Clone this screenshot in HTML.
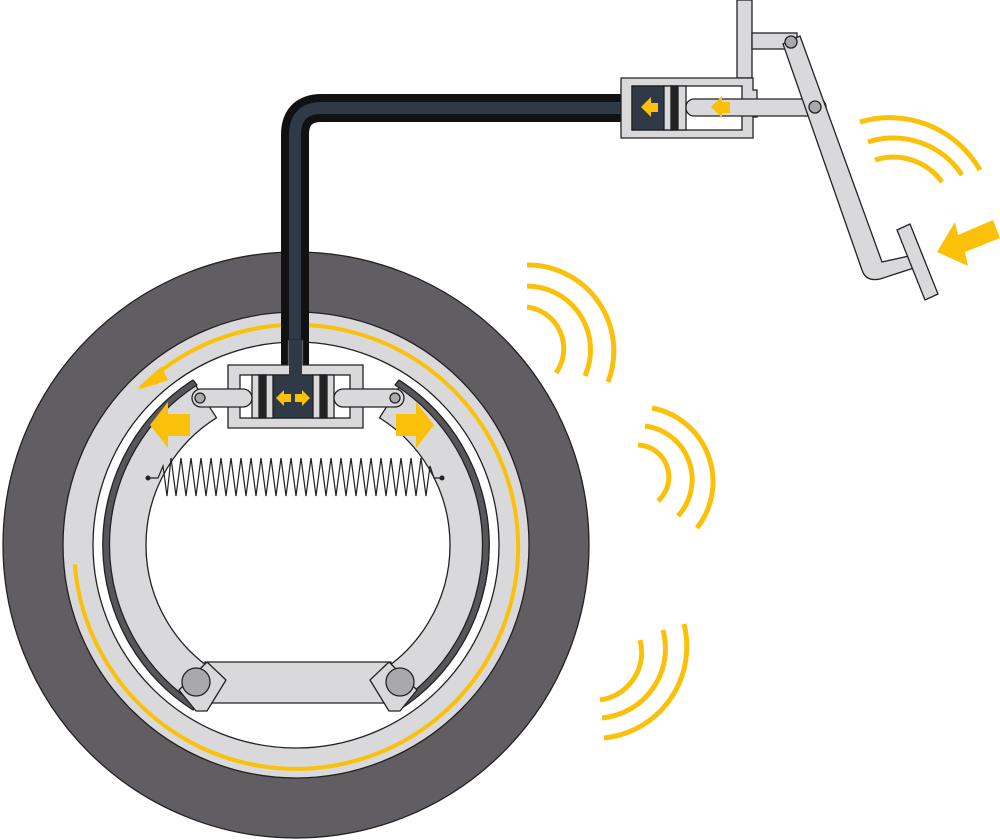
<!DOCTYPE html>
<html><head><meta charset="utf-8"><style>html,body{margin:0;padding:0;background:#fff}svg{display:block}</style></head>
<body>
<svg width="1000" height="840" viewBox="0 0 1000 840" xmlns="http://www.w3.org/2000/svg">
<g stroke="#222" stroke-width="1.3">
<circle cx="296" cy="545" r="293" fill="#605e62"/>
<circle cx="296" cy="545" r="233" fill="#d9d8da"/>
<circle cx="296" cy="545" r="203" fill="#fff"/>
</g>
<path d="M74.8,564.3 A222,222 0 1 0 152,378" fill="none" stroke="#fbc10a" stroke-width="4"/>
<polygon points="137,388 162,366 158,384" fill="#fbc10a"/>
<polygon points="138,390 163,370 168,380" fill="#fbc10a"/>
<g stroke="#222" stroke-width="1.3" stroke-linejoin="round">
<path d="M195.3,706.1 A190,190 0 0 1 195.3,384.9 L216.5,417.8 A150,150 0 0 0 216.5,672.2 Z" fill="#d9d8da"/>
<path d="M193,710 A196,196 0 0 1 193,380 L197,385 A190,190 0 0 0 197,705 Z" fill="#58565a"/>
<path d="M400.7,706.1 A190,190 0 0 0 400.7,384.9 L379.5,417.8 A150,150 0 0 1 379.5,672.2 Z" fill="#d9d8da"/>
<path d="M399,710 A196,196 0 0 0 399,380 L395,385 A190,190 0 0 1 395,705 Z" fill="#58565a"/>
<rect x="205" y="662" width="186" height="41" fill="#d9d8da"/>
<polygon points="179,690 207,662 226,680 207,711 196,711" fill="#d9d8da"/>
<polygon points="417,690 389,662 370,680 389,711 400,711" fill="#d9d8da"/>
<circle cx="196" cy="682" r="14" fill="#a9a8aa"/>
<circle cx="400" cy="682" r="14" fill="#a9a8aa"/>
</g>
<polyline fill="none" stroke="#222" stroke-width="1.2" points="148,478 158,478 163,466 167,496 171,458 176,496 181,458 186,496 191,458 196,496 201,458 206,496 211,458 216,496 221,458 226,496 231,458 236,496 241,458 246,496 251,458 256,496 261,458 266,496 271,458 276,496 281,458 286,496 291,458 296,496 301,458 306,496 311,458 316,496 321,458 326,496 331,458 336,496 341,458 346,496 351,458 356,496 361,458 366,496 371,458 376,496 381,458 386,496 391,458 396,496 401,458 406,496 411,458 416,496 421,458 426,496 430,466 434,478 442,478"/>
<circle cx="148" cy="478" r="2.5" fill="#222"/><circle cx="442" cy="478" r="2.5" fill="#222"/>
<path d="M295,365 V135 Q295,108 322,108 H625" fill="none" stroke="#111" stroke-width="28"/>
<path d="M295,365 V135 Q295,108 322,108 H625" fill="none" stroke="#2f3a46" stroke-width="12"/>
<g stroke="#222" stroke-width="1.3">
<path d="M228,365 H288 V340 H303 V365 H363 V428 H228 Z" fill="#d9d8da"/>
<rect x="240" y="375" width="110" height="43" fill="#fff"/>
<rect x="273" y="375" width="40" height="43" fill="#2f3a46"/>
<rect x="252" y="375" width="21" height="43" fill="#d9d8da"/>
<rect x="259" y="375" width="7" height="43" fill="#222"/>
<rect x="313" y="375" width="21" height="43" fill="#d9d8da"/>
<rect x="320" y="375" width="7" height="43" fill="#222"/>
<rect x="192" y="389" width="60" height="18" rx="9" fill="#d9d8da"/>
<rect x="334" y="389" width="70" height="18" rx="9" fill="#d9d8da"/>
<circle cx="200" cy="398" r="5" fill="#a9a8aa"/>
<circle cx="395" cy="398" r="5" fill="#a9a8aa"/>
</g>
<rect x="289" y="340" width="13" height="36" fill="#2f3a46"/>
<g fill="#fbc10a">
<polygon points="276,398 284,390 284,394 291,394 291,402 284,402 284,406"/>
<polygon points="310,398 302,390 302,394 295,394 295,402 302,402 302,406"/>
<polygon points="150,425 168,402 168,414 190,414 190,436 168,436 168,448"/>
<polygon points="434,425 416,402 416,414 396,414 396,436 416,436 416,448"/>
</g>
<g stroke="#222" stroke-width="1.3">
<rect x="737" y="0" width="15" height="78" fill="#d9d8da"/>
<rect x="752" y="33" width="45" height="16" fill="#d9d8da"/>
<path d="M621,78 H753 V90 H757 V117 H753 V138 H621 Z" fill="#d9d8da"/>
<rect x="632" y="86" width="110" height="44" fill="#fff"/>
<rect x="632" y="86" width="32" height="44" fill="#2f3a46"/>
<rect x="664" y="86" width="22" height="44" fill="#d9d8da"/>
<rect x="671" y="86" width="7" height="44" fill="#222"/>
<rect x="686" y="99" width="140" height="17" rx="8" fill="#d9d8da"/>
<path d="M783,44 L800,36 L882,262 L918,254 L920,266 L880,279 Q866,282 862,270 Z" fill="#d9d8da"/>
<polygon points="897,230 910,224 938,294 925,300" fill="#d9d8da"/>
<circle cx="791" cy="42" r="6" fill="#a9a8aa"/>
<circle cx="815" cy="107" r="6" fill="#a9a8aa"/>
</g>
<g fill="#fbc10a">
<polygon points="641,107 651,97 651,103 658,103 658,112 651,112 651,117"/>
<polygon points="711,107 722,96 722,102 730,102 730,113 722,113 722,118"/>
<polygon points="937,252 955,222 958,235 993,220 1000,238 965,252 968,266"/>
</g>
<g fill="none" stroke="#fbc10a" stroke-width="5">
<path d="M527,307 A42,42 0 0 1 556,373"/>
<path d="M527,286 A64,64 0 0 1 585,376"/>
<path d="M527,265 A86,86 0 0 1 608,382"/>
<path d="M638,445 A32,32 0 0 1 658,501"/>
<path d="M645,426 A54,54 0 0 1 678,516"/>
<path d="M652,408 A75,75 0 0 1 697,528"/>
<path d="M640,640 A48,48 0 0 1 600,700"/>
<path d="M663,630 A70,70 0 0 1 602,718"/>
<path d="M684,624 A92,92 0 0 1 604,738"/>
<path d="M875,160 A60,60 0 0 1 942,182"/>
<path d="M868,142 A82,82 0 0 1 962,175"/>
<path d="M860,122 A104,104 0 0 1 980,170"/>
</g>
</svg>
</body></html>
